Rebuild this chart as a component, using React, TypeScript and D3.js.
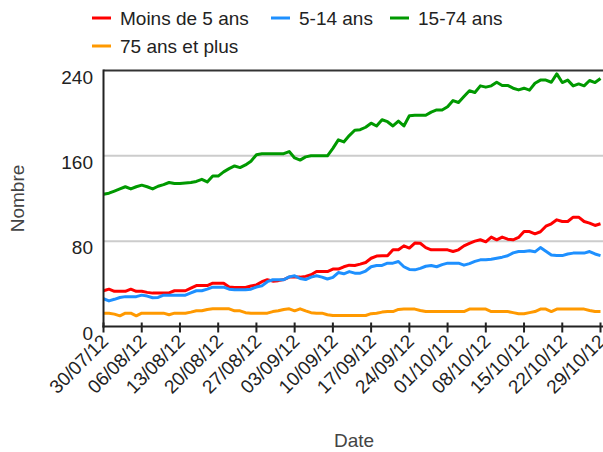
import React, { useEffect, useRef } from 'react';
import * as d3 from 'd3';

// Daily counts, 30/07/12 -> 29/10/12
const startDate = new Date(2012, 6, 30);
const endDate = new Date(2012, 9, 29);

const moins5 = [
  33.5, 35, 33, 33, 33, 35, 33, 33, 32, 31.3, 31.3, 31.3, 31.5, 33.5, 33.5, 33.5,
  36, 38.4, 38.4, 38.4, 40.6, 40.6, 40.6, 37, 36.6, 36.6, 36.6, 38, 39, 42,
  43.8, 42.5, 43, 44, 46.3, 46.3, 46.3, 47, 48.5, 51.5, 51.5, 51.5, 53.8, 53.8, 56,
  57.5, 57.2, 58.5, 60, 64, 66, 66.3, 66.3, 71.9, 71.9, 75.6, 73.5, 78.2, 78, 74,
  71.9, 71.9, 71.9, 71.9, 70.3, 71.9, 75.6, 78, 80, 81.3, 79.4, 83.8, 81.3, 83.8, 81.9,
  81.3, 83.5, 89, 89, 86.9, 88.8, 94, 96.3, 100, 98.4, 98.4, 102.5, 102.5, 98.4, 96.9,
  94.7, 96.3,
];

const ans5_14 = [
  26, 24, 25.5, 27.2, 28, 28, 28, 29.4, 28.5, 27, 27.2, 29.4, 29.4, 29.4, 29.4, 29.4,
  31.5, 33.5, 33.5, 35, 36.9, 36.9, 36.9, 35, 34.4, 34.4, 34.4, 35, 37, 38.1,
  42, 43.8, 43.8, 43.8, 46.5, 47.5, 45, 44, 46.3, 47.5, 46.3, 44.5, 46, 50.6, 49.4,
  51.5, 50, 50, 52, 56, 57.2, 57.2, 59.4, 59.4, 60.9, 56, 53.5, 53.1, 54.5, 56.5,
  57.2, 56, 58, 59.4, 59.4, 59.4, 57.5, 59, 61, 62.5, 62.5, 63, 64, 65, 66.3,
  69, 70.3, 70.3, 71, 70, 74, 70.5, 67, 66.5, 66.5, 68, 68.8, 68.8, 68.8, 70.3,
  68, 66.5,
];

const ans15_74 = [
  124, 125, 127, 129, 131, 129, 131, 132.5, 131, 129, 131.5, 133, 135, 134, 134, 134.5,
  135, 136, 138, 135.5, 141, 141, 145, 148, 150.5, 149, 151.5, 155, 161, 162,
  162, 162, 162, 162, 164, 158, 156, 159, 160, 160, 160, 160, 167, 175, 173,
  179, 184, 184.5, 186.8, 190.6, 188, 193.8, 192, 188, 192.5, 188, 197.5, 198, 198, 198,
  201, 203, 203, 206, 211.8, 210, 215.6, 221, 219.4, 225.6, 224.4, 225.6, 229, 226, 226,
  223.4, 221.8, 223.4, 221.6, 228, 231, 231, 229, 236.8, 228.7, 231, 225.6, 227.4, 225.6, 230.6,
  228.7, 232.5,
];

const ans75plus = [
  12.5, 12.5, 11.6, 10, 12.5, 12.5, 10, 12.5, 12.5, 12.5, 12.5, 12.5, 11, 12.5, 12.5, 12.5,
  13.5, 14.7, 14.7, 16, 16.6, 16.6, 16.6, 16.6, 14.7, 14.7, 13, 12.5, 12.5, 12.5,
  12.5, 14, 14.7, 16, 16.6, 14.7, 16.6, 14.7, 13, 12.5, 12.5, 11, 10.3, 10.3, 10.3,
  10.3, 10.3, 10.3, 10.3, 12, 12.5, 13.5, 14, 14, 16, 16.3, 16.3, 16.3, 15, 14,
  14, 14, 14, 14, 14, 14, 14, 16.3, 16.3, 16.3, 16.3, 14, 14, 14, 14,
  13, 11.9, 11.9, 13, 14, 16.3, 16.3, 14, 16.3, 16.3, 16.3, 16.3, 16.3, 16.3, 15,
  14, 14,
];

const seriesNames = ['Moins de 5 ans', '5-14 ans', '15-74 ans', '75 ans et plus'];
const seriesColors = ['#ff0000', '#1e90ff', '#009900', '#ff9900'];
const seriesValues = [moins5, ans5_14, ans15_74, ans75plus];

const yTicks = [0, 80, 160, 240];
const xTickLabels = [
  '30/07/12', '06/08/12', '13/08/12', '20/08/12', '27/08/12', '03/09/12', '10/09/12',
  '17/09/12', '24/09/12', '01/10/12', '08/10/12', '15/10/12', '22/10/12', '29/10/12',
];

const W = 603;
const H = 452;
const FONT = "Arial, 'Liberation Sans', sans-serif";
const FS = 19;

export default function App() {
  const svgRef = useRef<SVGSVGElement>(null);

  useEffect(() => {
    if (!svgRef.current) return;
    const svg = d3.select(svgRef.current);
    svg.selectAll('*').remove();

    const margin = { top: 70.5, right: 2.5, bottom: 125.5, left: 103.5 };
    const dates = d3.timeDay.range(startDate, d3.timeDay.offset(endDate, 1));
    const tickDates = d3.timeDay.range(startDate, d3.timeDay.offset(endDate, 1), 7);

    const x = d3.scaleTime()
      .domain([startDate, endDate])
      .range([margin.left, W - margin.right]);
    const y = d3.scaleLinear()
      .domain([0, 240])
      .range([H - margin.bottom, margin.top]);

    // gridlines
    svg.append('g')
      .selectAll('line')
      .data(yTicks.filter((t) => t > 0 && t < 240))
      .enter()
      .append('line')
      .attr('x1', margin.left)
      .attr('x2', W)
      .attr('y1', (d) => y(d))
      .attr('y2', (d) => y(d))
      .attr('stroke', '#cccccc')
      .attr('stroke-width', 2);

    // top border
    svg.append('line')
      .attr('x1', margin.left)
      .attr('x2', W)
      .attr('y1', y(240))
      .attr('y2', y(240))
      .attr('stroke', '#333')
      .attr('stroke-width', 2);

    // series
    const line = d3.line<number>()
      .x((_, i) => x(dates[i]))
      .y((d) => y(d));

    seriesValues.forEach((vals, i) => {
      svg.append('path')
        .datum(vals)
        .attr('d', line)
        .attr('fill', 'none')
        .attr('stroke', seriesColors[i])
        .attr('stroke-width', 3)
        .attr('stroke-linejoin', 'round');
    });

    // axes
    svg.append('line')
      .attr('x1', margin.left)
      .attr('x2', margin.left)
      .attr('y1', y(240) - 1)
      .attr('y2', y(0) + 1)
      .attr('stroke', '#222')
      .attr('stroke-width', 2);

    svg.append('line')
      .attr('x1', margin.left - 1)
      .attr('x2', W)
      .attr('y1', y(0))
      .attr('y2', y(0))
      .attr('stroke', '#222')
      .attr('stroke-width', 2);

    const xt = svg.append('g');
    tickDates.forEach((d, i) => {
      xt.append('line')
        .attr('x1', x(d))
        .attr('x2', x(d))
        .attr('y1', y(0) - 4)
        .attr('y2', y(0) + 6)
        .attr('stroke', '#222')
        .attr('stroke-width', 2);
      xt.append('text')
        .attr('transform', `translate(${x(d) + 6},${y(0) + 16}) rotate(-45)`)
        .attr('text-anchor', 'end')
        .attr('font-family', FONT)
        .attr('font-size', FS)
        .attr('fill', '#222')
        .text(xTickLabels[i]);
    });

    svg.append('g')
      .selectAll('text')
      .data(yTicks)
      .enter()
      .append('text')
      .attr('x', 93)
      .attr('y', (d) => y(d) + 6.5)
      .attr('dy', '0.35em')
      .attr('text-anchor', 'end')
      .attr('font-family', FONT)
      .attr('font-size', FS)
      .attr('fill', '#222')
      .text((d) => d);

    // axis titles
    svg.append('text')
      .attr('transform', `translate(24,${(y(0) + y(240)) / 2}) rotate(-90)`)
      .attr('text-anchor', 'middle')
      .attr('font-family', FONT)
      .attr('font-size', FS)
      .attr('fill', '#444')
      .text('Nombre');

    svg.append('text')
      .attr('x', 354)
      .attr('y', 447)
      .attr('text-anchor', 'middle')
      .attr('font-family', FONT)
      .attr('font-size', FS)
      .attr('fill', '#444')
      .text('Date');

    // legend
    const legendPos = [
      { x: 92, y: 18 },
      { x: 271, y: 18 },
      { x: 390, y: 18 },
      { x: 92, y: 46 },
    ];
    seriesNames.forEach((name, i) => {
      const g = svg.append('g')
        .attr('transform', `translate(${legendPos[i].x},${legendPos[i].y})`);
      g.append('line')
        .attr('x1', 0)
        .attr('x2', 19)
        .attr('stroke', seriesColors[i])
        .attr('stroke-width', 3);
      g.append('text')
        .attr('x', 28)
        .attr('dy', '0.35em')
        .attr('font-family', FONT)
        .attr('font-size', FS)
        .attr('fill', '#222')
        .text(name);
    });
  }, []);

  return (
    <svg
      ref={svgRef}
      width={W}
      height={H}
      style={{ position: 'absolute', left: 0, top: 0, background: '#fff' }}
    />
  );
}
